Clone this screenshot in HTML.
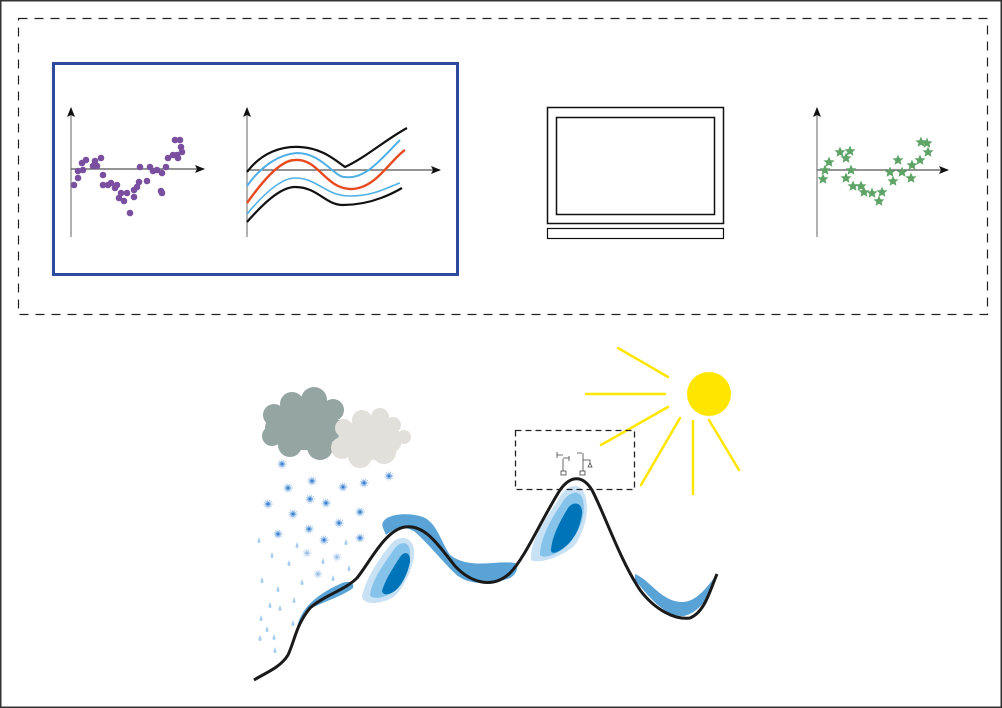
<!DOCTYPE html>
<html><head><meta charset="utf-8"><style>html,body{margin:0;padding:0;background:#fff}svg{display:block}</style></head><body>
<svg width="1002" height="708" viewBox="0 0 1002 708" xmlns="http://www.w3.org/2000/svg">
<defs>
<marker id="ar" markerWidth="10" markerHeight="8" refX="9" refY="4" orient="auto" markerUnits="userSpaceOnUse"><path d="M0,0 L10,4 L0,8 L2,4 Z" fill="#111"/></marker>
<g id="sf"><circle r="3" fill="#8fb9e6"/><circle r="1.4" fill="#3a7fd0"/><circle r="4" fill="none" stroke="#8fb9e6" stroke-width="0.8" stroke-dasharray="1.2 1"/></g>
<path id="rd" d="M0,-3 C1.2,0 1.5,1 1.5,1.5 A1.5,1.5 0 0 1 -1.5,1.5 C-1.5,1 -1.2,0 0,-3Z" fill="#a9cdef"/>
<polygon id="st" points="0,-5.5 1.6,-1.8 5.5,-1.6 2.6,1 3.4,4.8 0,2.8 -3.4,4.8 -2.6,1 -5.5,-1.6 -1.6,-1.8" fill="#5ea467"/>
</defs>
<rect x="0.75" y="0.75" width="1000.5" height="706.5" fill="#fff" stroke="#333" stroke-width="1.5"/>
<rect x="18.5" y="18.5" width="969" height="296" fill="none" stroke="#222" stroke-width="1.2" stroke-dasharray="9 7"/>
<rect x="53.5" y="63.5" width="404" height="211" fill="none" stroke="#2e4a9c" stroke-width="3"/>
<!-- scatter plot -->
<line x1="71" y1="237" x2="71" y2="108" stroke="#888" stroke-width="1.3" marker-end="url(#ar)"/>
<line x1="71" y1="169" x2="204" y2="169" stroke="#555" stroke-width="1.3" marker-end="url(#ar)"/>
<g fill="#7a4fa0">
<circle cx="74" cy="185" r="3.3"/><circle cx="78" cy="178" r="3.3"/><circle cx="78" cy="171" r="3.3"/><circle cx="83" cy="170" r="3.3"/><circle cx="82" cy="163" r="3.3"/><circle cx="86" cy="160" r="3.3"/><circle cx="95" cy="161" r="3.3"/><circle cx="93" cy="166" r="3.3"/><circle cx="97" cy="166" r="3.3"/><circle cx="103" cy="175" r="3.3"/><circle cx="103" cy="185" r="3.3"/><circle cx="108" cy="185" r="3.3"/><circle cx="111" cy="183" r="3.3"/><circle cx="115" cy="188" r="3.3"/><circle cx="117" cy="185" r="3.3"/><circle cx="121" cy="193" r="3.3"/><circle cx="119" cy="198" r="3.3"/><circle cx="124" cy="201" r="3.3"/><circle cx="127" cy="193" r="3.3"/><circle cx="130" cy="213" r="3.3"/><circle cx="134" cy="190" r="3.3"/><circle cx="137" cy="187" r="3.3"/><circle cx="139" cy="182" r="3.3"/><circle cx="134" cy="197" r="3.3"/><circle cx="147" cy="181" r="3.3"/><circle cx="150" cy="167" r="3.3"/><circle cx="153" cy="171" r="3.3"/><circle cx="157" cy="170" r="3.3"/><circle cx="162" cy="173" r="3.3"/><circle cx="161" cy="191" r="3.3"/><circle cx="162" cy="193" r="3.3"/><circle cx="166" cy="167" r="3.3"/><circle cx="168" cy="158" r="3.3"/><circle cx="173" cy="155" r="3.3"/><circle cx="178" cy="158" r="3.3"/><circle cx="175" cy="140" r="3.3"/><circle cx="180" cy="140" r="3.3"/><circle cx="181" cy="147" r="3.3"/><circle cx="177" cy="155" r="3.3"/><circle cx="182" cy="152" r="3.3"/><circle cx="101" cy="158" r="3.3"/><circle cx="140" cy="167" r="3.3"/>
</g>
<!-- curves plot -->
<line x1="247" y1="237" x2="247" y2="108" stroke="#888" stroke-width="1.3" marker-end="url(#ar)"/>
<line x1="247" y1="170" x2="440" y2="170" stroke="#555" stroke-width="1.3" marker-end="url(#ar)"/>
<path d="M247,172 C262,152 282,146 300,147 C322,148 335,160 345,167 C365,158 385,140 407,128" fill="none" stroke="#111" stroke-width="2.2"/>
<path d="M247,186 C262,165 280,154 297,153 C322,153 335,178 345,177 C365,180 380,160 400,140" fill="none" stroke="#4fb0e6" stroke-width="2"/>
<path d="M247,203 C262,182 280,160 295,160 C318,158 325,188 350,189 C375,190 390,160 405,150" fill="none" stroke="#e84a1f" stroke-width="2.4"/>
<path d="M247,214 C262,196 280,178 295,178 C318,178 325,196 350,196 C375,196 390,186 400,183" fill="none" stroke="#4fb0e6" stroke-width="1.6"/>
<path d="M247,222 C262,205 280,187 295,187 C318,187 325,205 343,205 C370,205 390,195 402,188" fill="none" stroke="#111" stroke-width="2.2"/>
<!-- monitor -->
<rect x="547.5" y="107.5" width="176" height="116" fill="none" stroke="#111" stroke-width="1.5"/>
<rect x="556.5" y="117.5" width="158" height="97" fill="none" stroke="#111" stroke-width="1.5"/>
<rect x="547.5" y="228.5" width="176" height="10" fill="none" stroke="#111" stroke-width="1.2"/>
<!-- star plot -->
<line x1="817" y1="237" x2="817" y2="108" stroke="#888" stroke-width="1.3" marker-end="url(#ar)"/>
<line x1="817" y1="170" x2="948" y2="170" stroke="#555" stroke-width="1.3" marker-end="url(#ar)"/>
<g>
<use href="#st" x="829" y="162"/><use href="#st" x="825" y="170"/><use href="#st" x="823" y="179"/><use href="#st" x="840" y="152"/><use href="#st" x="846" y="158"/><use href="#st" x="850" y="151"/><use href="#st" x="851" y="170"/><use href="#st" x="846" y="178"/><use href="#st" x="853" y="186"/><use href="#st" x="861" y="186"/><use href="#st" x="864" y="192"/><use href="#st" x="872" y="193"/><use href="#st" x="879" y="201"/><use href="#st" x="882" y="192"/><use href="#st" x="890" y="172"/><use href="#st" x="898" y="160"/><use href="#st" x="893" y="181"/><use href="#st" x="902" y="172"/><use href="#st" x="911" y="178"/><use href="#st" x="912" y="165"/><use href="#st" x="920" y="160"/><use href="#st" x="921" y="142"/><use href="#st" x="927" y="143"/><use href="#st" x="928" y="152"/>
</g>
<!-- sun -->
<g stroke="#ffe600" stroke-width="2.5" stroke-linecap="round">
<line x1="586" y1="394" x2="665" y2="394"/><line x1="601" y1="445" x2="668" y2="407"/><line x1="641" y1="485" x2="680" y2="418"/><line x1="693" y1="494" x2="693" y2="421"/><line x1="739" y1="470" x2="709" y2="420"/><line x1="618" y1="348" x2="668" y2="377"/>
</g>
<circle cx="709" cy="394" r="22" fill="#ffe600"/>
<!-- clouds -->
<g fill="#94a5a2">
<ellipse cx="303" cy="428" rx="38" ry="22"/>
<circle cx="292" cy="404" r="12"/><circle cx="314" cy="400" r="13"/><circle cx="333" cy="410" r="11"/>
<circle cx="274" cy="415" r="11"/><circle cx="272" cy="436" r="10"/><circle cx="290" cy="445" r="12"/><circle cx="320" cy="447" r="13"/><circle cx="338" cy="430" r="10"/>
</g>
<g fill="#e2e0db">
<ellipse cx="370" cy="440" rx="32" ry="20"/>
<circle cx="362" cy="420" r="10"/><circle cx="380" cy="417" r="9"/><circle cx="393" cy="425" r="8"/><circle cx="404" cy="437" r="7"/><circle cx="342" cy="448" r="11"/><circle cx="360" cy="456" r="12"/><circle cx="384" cy="452" r="12"/><circle cx="344" cy="428" r="9"/>
</g>
<!-- snow -->
<g>
<use href="#sf" x="282" y="464"/><use href="#sf" x="288" y="488"/><use href="#sf" x="312" y="481"/><use href="#sf" x="343" y="487"/><use href="#sf" x="364" y="483"/><use href="#sf" x="389" y="476"/><use href="#sf" x="268" y="504"/><use href="#sf" x="310" y="499"/><use href="#sf" x="326" y="503"/><use href="#sf" x="293" y="514"/><use href="#sf" x="339" y="523"/><use href="#sf" x="360" y="512"/><use href="#sf" x="309" y="529"/><use href="#sf" x="278" y="534"/><use href="#sf" x="324" y="540"/><use href="#sf" x="360" y="538"/><use href="#sf" x="307" y="553" opacity="0.5"/><use href="#sf" x="337" y="557" opacity="0.5"/><use href="#sf" x="318" y="574" opacity="0.5"/>
</g>
<g>
<use href="#rd" x="259" y="540"/><use href="#rd" x="272" y="555"/><use href="#rd" x="297" y="545"/><use href="#rd" x="346" y="542"/><use href="#rd" x="289" y="563"/><use href="#rd" x="323" y="561"/><use href="#rd" x="349" y="568"/><use href="#rd" x="262" y="580"/><use href="#rd" x="278" y="589"/><use href="#rd" x="302" y="582"/><use href="#rd" x="333" y="578"/><use href="#rd" x="261" y="618"/><use href="#rd" x="270" y="605"/><use href="#rd" x="280" y="608"/><use href="#rd" x="294" y="600"/><use href="#rd" x="267" y="629"/><use href="#rd" x="293" y="623"/><use href="#rd" x="274" y="637"/><use href="#rd" x="260" y="638"/><use href="#rd" x="275" y="650"/>
</g>
<!-- snow cover bands -->
<g fill="#5aa3d6">
<path d="M297,628 C300,610 315,595 340,584 C348,580 355,582 353,588 C340,598 318,603 305,612 Z"/>
<path d="M383,528 C378,515 405,511 423,517 C437,523 440,540 450,555 C470,570 495,560 515,563 C520,566 516,575 510,578 C490,585 470,585 458,576 C445,565 430,545 415,532 C405,525 395,528 386,535 Z"/>
<path d="M635,574 C650,580 660,600 680,602 C695,603 705,590 717,574 C712,595 700,612 684,616 C665,617 650,598 635,580 Z"/>
</g>
<g>
<path d="M362,597 C365,580 378,560 390,545 C398,535 412,535 414,550 C415,565 405,585 395,596 C385,603 365,607 362,597Z" fill="#c8e1f4"/>
<path d="M370,595 C372,580 383,565 395,548 C402,540 410,542 410,553 C410,565 402,582 393,592 C385,598 372,600 370,595Z" fill="#86c3ea"/>
<path d="M382,591 C385,580 393,568 400,557 C405,550 411,553 410,562 C408,573 402,585 396,590 C390,595 383,596 382,591Z" fill="#0074b8"/>
<path d="M531,560 C530,540 545,520 558,500 C565,485 580,480 585,495 C590,510 585,530 575,545 C565,555 540,565 531,560Z" fill="#c8e1f4"/>
<path d="M540,555 C540,540 550,520 562,503 C568,492 580,488 583,500 C586,515 580,530 570,543 C560,553 545,560 540,555Z" fill="#86c3ea"/>
<path d="M551,550 C552,535 562,518 568,508 C574,500 583,503 582,514 C580,528 575,538 566,546 C558,553 551,555 551,550Z" fill="#0074b8"/>
</g>
<!-- mountain line -->
<path d="M254,680 C265,673 280,668 288,655 C295,640 296,625 310,608 C325,595 345,590 357,578 C370,562 385,530 405,527 C425,524 438,545 455,566 C470,582 492,590 510,573 C525,558 540,522 560,490 C570,476 582,474 592,490 C605,515 620,560 640,590 C655,610 675,620 690,618 C705,612 710,590 717,574" fill="none" stroke="#1a1a1a" stroke-width="3"/>
<!-- station box -->
<rect x="515.5" y="430.5" width="119" height="59" fill="none" stroke="#222" stroke-width="1.3" stroke-dasharray="6 4"/>
<g stroke="#444" stroke-width="0.8" fill="none">
<rect x="561" y="471" width="5" height="4" fill="#fff"/><rect x="580" y="471" width="5" height="4" fill="#fff"/>
<path d="M563,471 V459 M557,452 V458 M557,455 H563 M563,458 H569 M569,456 V461"/>
<path d="M583,471 V453 M577,453 H582 M583,460 H590 V463 M588,467 L590,463 L592,467 Z"/>
</g>
</svg>
</body></html>
